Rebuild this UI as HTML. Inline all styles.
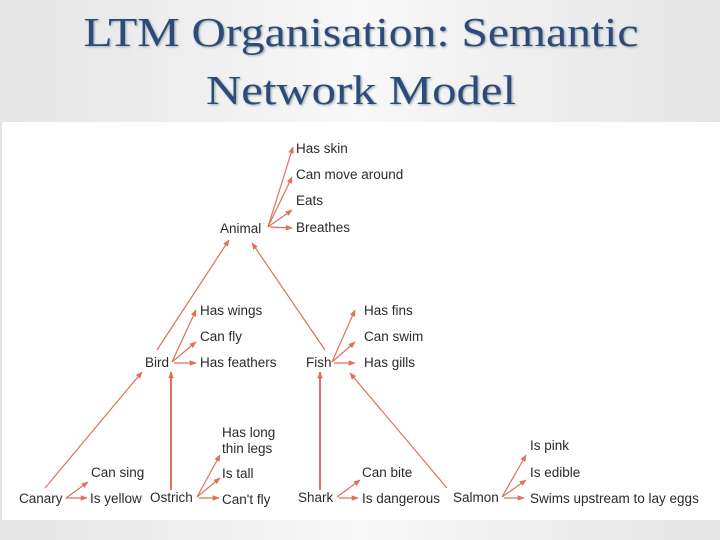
<!DOCTYPE html>
<html><head><meta charset="utf-8"><style>
html,body{margin:0;padding:0;width:720px;height:540px;overflow:hidden;background:linear-gradient(#f4f4f4,#e6e6e6);}
svg{display:block}
</style></head><body>
<svg width="720" height="540" viewBox="0 0 720 540" xmlns="http://www.w3.org/2000/svg">
<defs>
<linearGradient id="bg" x1="0" y1="0" x2="1" y2="0"><stop offset="0" stop-color="#e4e4e4"/><stop offset="0.5" stop-color="#f8f8f8"/><stop offset="1" stop-color="#e4e4e4"/></linearGradient>
<marker id="a" viewBox="0 0 10 10" refX="9" refY="5" markerWidth="7" markerHeight="7" orient="auto-start-reverse" markerUnits="userSpaceOnUse"><path d="M0,1 L10,5 L0,9 z" fill="#e0705a"/></marker>
</defs>
<rect x="0" y="0" width="720" height="540" fill="url(#bg)"/>
<g font-family="Liberation Serif, serif" font-size="41" fill="#2e4a7a" text-anchor="middle" style="text-shadow:1px 1px 2px #9aa">
<text x="361" y="46" textLength="555" lengthAdjust="spacingAndGlyphs">LTM Organisation: Semantic</text>
<text x="361" y="104" textLength="310" lengthAdjust="spacingAndGlyphs">Network Model</text>
</g>
<rect x="2" y="122" width="718" height="398" fill="#fff"/>
<g stroke="#e0705a" stroke-width="1.2" fill="none" marker-end="url(#a)">
<line x1="268" y1="227" x2="293" y2="147"/>
<line x1="268" y1="227" x2="292" y2="177"/>
<line x1="268" y1="227" x2="292" y2="210"/>
<line x1="270" y1="227" x2="292" y2="228"/>
<line x1="157" y1="350" x2="229" y2="240"/>
<line x1="325" y1="350" x2="252" y2="243"/>
<line x1="172" y1="362" x2="196" y2="310"/>
<line x1="172" y1="362" x2="196" y2="342"/>
<line x1="174" y1="363" x2="196" y2="363"/>
<line x1="332" y1="362" x2="355" y2="310"/>
<line x1="332" y1="362" x2="355" y2="342"/>
<line x1="334" y1="363" x2="355" y2="363"/>
<line x1="45" y1="488" x2="142" y2="372"/>
<line x1="171" y1="490" x2="171" y2="372" stroke-width="2"/>
<line x1="320" y1="490" x2="320" y2="372" stroke-width="2"/>
<line x1="447" y1="488" x2="350" y2="373"/>
<line x1="66" y1="498" x2="88" y2="482"/>
<line x1="66" y1="498" x2="87" y2="498"/>
<line x1="197" y1="497" x2="220" y2="455"/>
<line x1="197" y1="497" x2="220" y2="478"/>
<line x1="199" y1="498" x2="219" y2="498"/>
<line x1="337" y1="497" x2="360" y2="480"/>
<line x1="339" y1="498" x2="358" y2="498"/>
<line x1="502" y1="497" x2="526" y2="455"/>
<line x1="502" y1="497" x2="526" y2="480"/>
<line x1="504" y1="498" x2="524" y2="498"/>
</g>
<g font-family="Liberation Sans, sans-serif" font-size="13.5" fill="#2a2a2a">
<text x="296" y="153">Has skin</text>
<text x="296" y="179">Can move around</text>
<text x="296" y="205">Eats</text>
<text x="296" y="232">Breathes</text>
<text x="220" y="233">Animal</text>
<text x="200" y="315">Has wings</text>
<text x="200" y="341">Can fly</text>
<text x="200" y="367">Has feathers</text>
<text x="145" y="367">Bird</text>
<text x="364" y="315">Has fins</text>
<text x="364" y="341">Can swim</text>
<text x="364" y="367">Has gills</text>
<text x="306" y="367">Fish</text>
<text x="222" y="437">Has long</text>
<text x="222" y="453">thin legs</text>
<text x="222" y="478">Is tall</text>
<text x="222" y="504">Can't fly</text>
<text x="91" y="477">Can sing</text>
<text x="90" y="503">Is yellow</text>
<text x="19" y="503">Canary</text>
<text x="150" y="502">Ostrich</text>
<text x="298" y="502">Shark</text>
<text x="362" y="477">Can bite</text>
<text x="362" y="503">Is dangerous</text>
<text x="453" y="502">Salmon</text>
<text x="530" y="450">Is pink</text>
<text x="530" y="477">Is edible</text>
<text x="530" y="503">Swims upstream to lay eggs</text>
</g>
</svg>
</body></html>
